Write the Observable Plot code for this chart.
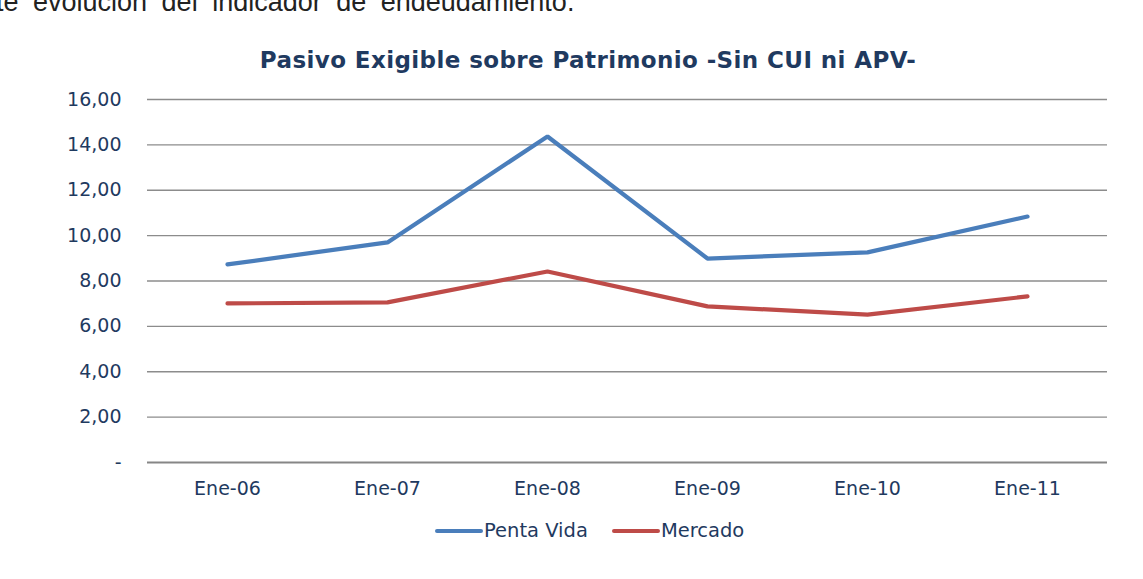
<!DOCTYPE html>
<html>
<head>
<meta charset="utf-8">
<script src="https://cdn.jsdelivr.net/npm/d3@7"></script>
<script src="https://cdn.jsdelivr.net/npm/@observablehq/plot@0.6"></script>
<style>
  html, body { margin: 0; padding: 0; background: #fff; width: 1143px; height: 579px; overflow: hidden; }
  #wrap { position: relative; width: 1143px; height: 579px; }
  #intro { position: absolute; left: -4px; top: -11px; font: 27px "Liberation Sans", Arial, sans-serif; line-height: 27px; color: #222; white-space: nowrap; word-spacing: 7px; z-index: 2; }
  #title { position: absolute; left: 0; width: 1176px; top: 49px; text-align: center; font: bold 23px "DejaVu Sans", Verdana, sans-serif; line-height: 23px; letter-spacing: 0.4px; color: #1F3A60; z-index: 2; }
  #chart { position: absolute; left: 0; top: 0; }
  #legend { position: absolute; top: 521px; left: 435px; font: 19.5px "DejaVu Sans", Verdana, sans-serif; line-height: 20px; color: #1F3A60; display: flex; align-items: center; z-index: 2; white-space: nowrap; }
  .sw { display: inline-block; width: 48px; height: 4px; border-radius: 2px; }
</style>
</head>
<body>
<div id="wrap">
  <div id="intro">te evolución del indicador de endeudamiento.</div>
  <div id="title">Pasivo Exigible sobre Patrimonio -Sin CUI ni APV-</div>
  <div id="chart"></div>
  <div id="legend"></div>
</div>
<script>
const periods = ["Ene-06", "Ene-07", "Ene-08", "Ene-09", "Ene-10", "Ene-11"];
const pentaVida = [8.73, 9.70, 14.37, 8.99, 9.26, 10.84];
const mercado = [7.01, 7.06, 8.42, 6.88, 6.52, 7.32];
const seriesNames = ["Penta Vida", "Mercado"];
const seriesColors = ["#4A7EBB", "#BE4B48"];
const yTicks = [0, 2, 4, 6, 8, 10, 12, 14, 16];

const rows = [];
periods.forEach((p, i) => {
  rows.push({period: p, value: pentaVida[i], series: seriesNames[0]});
  rows.push({period: p, value: mercado[i], series: seriesNames[1]});
});

const textColor = "#1F3A60";
const fmt = d => d === 0 ? "-" : d.toFixed(2).replace(".", ",");

const chart = Plot.plot({
  width: 1143,
  height: 579,
  marginTop: 99,
  marginBottom: 117,
  marginLeft: 147,
  marginRight: 36,
  style: {fontFamily: "'DejaVu Sans', Verdana, sans-serif", background: "transparent"},
  x: {type: "point", domain: periods, padding: 0.5},
  y: {domain: [0, 16]},
  color: {domain: seriesNames, range: seriesColors},
  marks: [
    Plot.gridY(yTicks.filter(d => d > 0), {stroke: "#8c8c8c", strokeOpacity: 1, strokeWidth: 1.3}),
    Plot.ruleY([0], {stroke: "#868686", strokeWidth: 2}),
    Plot.axisY(yTicks, {tickSize: 0, tickPadding: 26, fontSize: 19, fill: textColor, tickFormat: fmt, label: null}),
    Plot.axisX({tickSize: 0, tickPadding: 19, fontSize: 19, fill: textColor, label: null}),
    Plot.line(rows, {x: "period", y: "value", z: "series", stroke: "series", strokeWidth: 4.2, strokeLinecap: "round", strokeLinejoin: "miter"})
  ]
});
document.getElementById("chart").appendChild(chart);

const legend = document.getElementById("legend");
seriesNames.forEach((name, i) => {
  const sw = document.createElement("span");
  sw.className = "sw";
  sw.style.background = seriesColors[i];
  if (i > 0) sw.style.marginLeft = "24px";
  const t = document.createElement("span");
  t.textContent = name;
  t.style.marginLeft = "1px";
  legend.appendChild(sw);
  legend.appendChild(t);
});
</script>
</body>
</html>
